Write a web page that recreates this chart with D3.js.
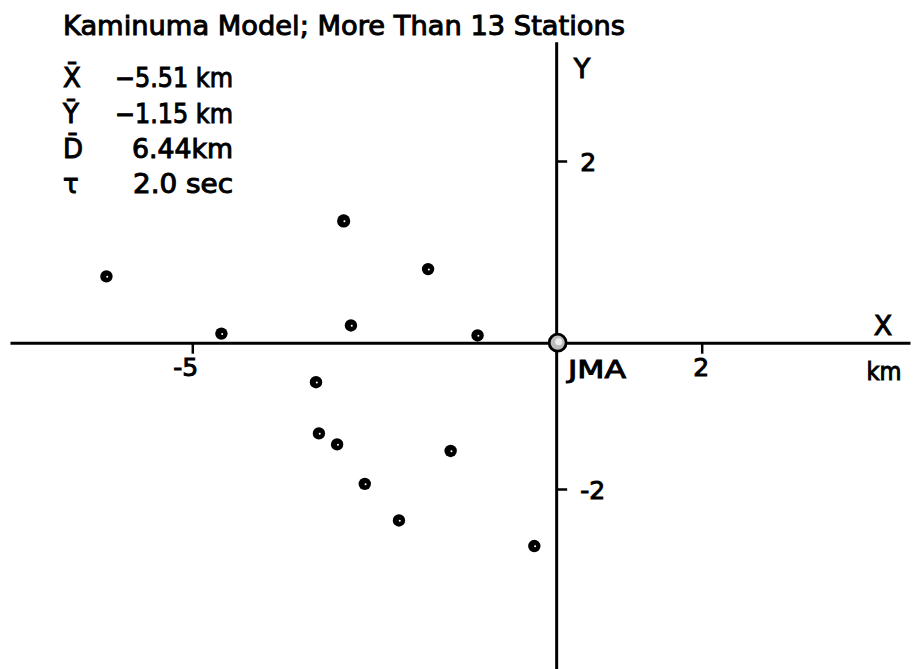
<!DOCTYPE html>
<html>
<head>
<meta charset="utf-8">
<script src="https://cdn.jsdelivr.net/npm/d3@7"></script>
<style>
  html, body { margin: 0; padding: 0; background: #fff; }
  svg { display: block; }
  text { font-family: "DejaVu Sans", sans-serif; fill: #000; }
</style>
</head>
<body>
<svg id="chart" width="914" height="669"></svg>
<script>
// ---------- data ----------
const titleText = "Kaminuma Model; More Than 13 Stations";
const stationX = [-6.18, -4.60, -2.92, -2.82, -1.76, -1.08, -3.30, -3.26, -3.01, -1.45, -2.63, -2.16, -0.30];
const stationY = [0.73, 0.10, 1.34, 0.19, 0.81, 0.08, -0.54, -1.24, -1.39, -1.48, -1.93, -2.43, -2.78];
const originLabel = "JMA";
const xTickValues = [-5, 2];
const xTickLabels = ["-5", "2"];
const yTickValues = [2, -2];
const yTickLabels = ["2", "-2"];
const legendSymbols = ["X\u0304", "Y\u0304", "D\u0304", "\u03C4"];
const legendValues = ["\u22125.51 km", "\u22121.15 km", "6.44km", "2.0  sec"];

// ---------- layout ----------
const svg = d3.select("#chart");
const SW = 1.0; // text stroke thickening to mimic lettering-guide strokes

// x scale: linear, calibrated on the -5 and 2 ticks, extended to the drawn axis ends
const xCal = d3.scaleLinear().domain([-5, 2]).range([192.3, 701.7]);
const xLeft = 10, xRight = 910;
const x = d3.scaleLinear()
  .domain([xCal.invert(xLeft), xCal.invert(xRight)])
  .range([xLeft, xRight]);

// y scale: piecewise linear (the original drawing has unequal spacing above/below the axis)
const yTop = 41.7, yBottom = 669;
const yLow = -2 - (yBottom - 489) / (489 - 342.7) * 2;
const yHigh = 2 + (161 - yTop) / (342.7 - 161) * 2;
const y = d3.scaleLinear()
  .domain([yLow, -2, 0, 2, yHigh])
  .range([yBottom, 489, 342.7, 161, yTop]);

const x0 = x(0), y0 = y(0);

// ---------- axes ----------
const xAxis = svg.append("g")
  .attr("transform", `translate(0,${y0})`)
  .call(d3.axisBottom(x).tickValues(xTickValues).tickSize(11).tickSizeOuter(0)
        .tickFormat((d, i) => xTickLabels[i]));
xAxis.select(".domain").attr("stroke", "#000").attr("stroke-width", 3);
xAxis.selectAll(".tick line").attr("stroke", "#000").attr("stroke-width", 2.5);
xAxis.selectAll(".tick text")
  .attr("font-family", "DejaVu Sans").attr("font-size", 25)
  .attr("stroke", "#000").attr("stroke-width", SW)
  .attr("y", 16).attr("dy", "0.71em")
  .attr("dx", (d) => d < 0 ? -7 : -1);

const yAxis = svg.append("g")
  .attr("transform", `translate(${x0},0)`)
  .call(d3.axisRight(y).tickValues(yTickValues).tickSize(11).tickSizeOuter(0)
        .tickFormat((d, i) => yTickLabels[i]));
yAxis.select(".domain").attr("stroke", "#000").attr("stroke-width", 3);
yAxis.selectAll(".tick line").attr("stroke", "#000").attr("stroke-width", 2.5);
yAxis.selectAll(".tick text")
  .attr("font-family", "DejaVu Sans").attr("font-size", 25)
  .attr("stroke", "#000").attr("stroke-width", SW)
  .attr("x", 24).attr("text-anchor", "start").attr("dy", "0.36em");

// axis names
svg.append("text").attr("x", 883).attr("y", 335).attr("text-anchor", "middle")
  .attr("font-size", 27).attr("stroke", "#000").attr("stroke-width", SW).text("X");
svg.append("text").attr("x", 884).attr("y", 380).attr("text-anchor", "middle")
  .attr("font-size", 25).attr("stroke", "#000").attr("stroke-width", SW)
  .attr("textLength", 35).attr("lengthAdjust", "spacingAndGlyphs").text("km");
svg.append("text").attr("x", 582).attr("y", 78).attr("text-anchor", "middle")
  .attr("font-size", 27).attr("stroke", "#000").attr("stroke-width", SW).text("Y");

// ---------- stations ----------
const pts = stationX.map((d, i) => ({ x: stationX[i], y: stationY[i] }));
const g = svg.append("g");
g.selectAll("circle.st").data(pts).join("circle")
  .attr("class", "st")
  .attr("cx", d => x(d.x)).attr("cy", d => y(d.y))
  .attr("r", (d, i) => i === 2 ? 6.6 : 6.2).attr("fill", "#000");
g.selectAll("circle.hole").data(pts).join("circle")
  .attr("class", "hole")
  .attr("cx", d => x(d.x) + 0.8).attr("cy", d => y(d.y) + 0.3)
  .attr("r", 1).attr("fill", "#fff");

// origin (JMA)
svg.append("circle").attr("cx", x(0) + 1.5).attr("cy", y(0))
  .attr("r", 8.5).attr("fill", "#bdbdbd").attr("stroke", "#000").attr("stroke-width", 2.8);
svg.append("circle").attr("cx", x(0) + 2.5).attr("cy", y(0) - 1)
  .attr("r", 3.5).attr("fill", "#eee");
svg.append("text").attr("x", 568).attr("y", 378)
  .attr("font-size", 25).attr("stroke", "#000").attr("stroke-width", SW)
  .attr("textLength", 58).attr("lengthAdjust", "spacingAndGlyphs").text(originLabel);

// ---------- title ----------
svg.append("text").attr("x", 63).attr("y", 35)
  .attr("font-size", 27).attr("stroke", "#000").attr("stroke-width", SW)
  .attr("textLength", 562).attr("lengthAdjust", "spacingAndGlyphs").text(titleText);

// ---------- legend ----------
const legY = [87, 123, 158, 193];
const legValStart = [115, 115, 132, 133];
const leg = svg.append("g");
legendSymbols.forEach((s, i) => {
  leg.append("text").attr("x", 63).attr("y", legY[i])
    .attr("font-size", 26).attr("stroke", "#000").attr("stroke-width", SW).text(s);
  leg.append("text").attr("x", legValStart[i]).attr("y", legY[i])
    .attr("font-size", 26).attr("stroke", "#000").attr("stroke-width", SW)
    .attr("textLength", 233 - legValStart[i]).attr("lengthAdjust", "spacingAndGlyphs")
    .text(legendValues[i]);
});
</script>
</body>
</html>
